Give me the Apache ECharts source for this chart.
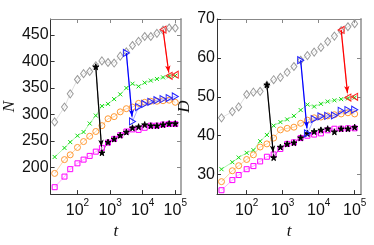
<!DOCTYPE html>
<html><head><meta charset="utf-8">
<script src="https://cdn.jsdelivr.net/npm/echarts@6/dist/echarts.min.js"></script>
<style>html,body{margin:0;padding:0;background:#fff}#c{width:374px;height:245px}</style>
</head><body><div id="c"></div>
<script>
// time steps (x, log scale)
const tValues = [20, 40, 60, 100, 154, 237, 365, 562, 866, 1334, 2054, 3162, 4870, 7499, 11548, 17783, 27384, 42170, 64938, 100000];
const xTicks = [100, 1000, 10000, 100000];
const nTicks = [200, 250, 300, 350, 400, 450];
const dTicks = [30, 40, 50, 60, 70];

// left panel: N
const nGray    = [286, 314, 339, 366, 377, 381, 392, 401, 398, 397, 410, 418, 430, 438, 447, 447, 453, 459, 463, 463];
const nGreen   = [220, 237, 248, 260, 267, 283, 298, 316, 320, 329, 338, 350, 358, 353, 360, 364, 367, 370, 372, 373];
const nOrange  = [189, 215, 224, 238, 249, 259, 268, 279, 292, 296, 305, 311, 314, 321, 323, 325, 325, 326, 327, 323];
const nMagenta = [163, 183, 197, 208, 215, 222, 230, 237, 247, 254, 261, 268, 272, 271, 275, 279, 279, 281, 282, 282];
const nBlack   = [390, 228, 248, 254, 261, 267, 275, 277, 281, 279, 279, 281, 283, 283]; // from index 6
const nBlue    = [416, 287, 314, 320, 324, 327, 329, 331, 334];                          // from index 11
const nRed     = [460, 373, 375];                                                        // from index 17

// right panel: D
const dGray    = [44.6, 46.2, 47.4, 50.6, 51.2, 51.4, 53.0, 54.4, 55.0, 56.3, 57.8, 59.4, 60.6, 61.5, 62.7, 64.2, 65.6, 67.0, 68.0, 68.8];
const dGreen   = [31.4, 33.2, 34.4, 35.6, 36.3, 38.6, 40.2, 42.6, 43.5, 44.2, 45.1, 46.6, 48.0, 47.5, 48.2, 48.8, 49.1, 49.4, 49.6, 49.8];
const dOrange  = [28.2, 31.0, 32.3, 33.9, 35.1, 37.1, 37.9, 39.4, 41.5, 41.9, 42.2, 43.2, 44.0, 44.6, 44.8, 45.1, 45.4, 45.6, 45.9, 45.6];
const dMagenta = [26.0, 28.6, 29.9, 31.4, 32.2, 33.4, 34.6, 35.2, 36.6, 37.9, 38.3, 39.4, 40.0, 40.3, 40.6, 41.4, 41.8, 41.8, 41.9, 41.9];
const dBlack   = [53.1, 34.4, 37.1, 37.9, 38.2, 39.5, 40.6, 41.1, 41.5, 41.8, 41.0, 41.8, 41.8, 42.2];
const dBlue    = [59.4, 40.6, 44.3, 45.0, 45.1, 45.2, 46.4, 46.6, 46.7];
const dRed     = [67.2, 49.8, 50.0];

const BLACK_START = 6, BLUE_START = 11, RED_START = 17;

const STAR = 'path://M50,0L61,35L98,35L68,57L79,91L50,70L21,91L32,57L2,35L39,35Z';
const XMARK = 'path://M0,0L10,10M10,0L0,10';

function pairs(vals, start) { return vals.map((v, i) => [tValues[start + i], v]); }

function lineSeries(gi, vals, start, color, lineColor, symbol, size, filled, rotate) {
  return {
    type: 'line', xAxisIndex: gi * 2, yAxisIndex: gi * 2,
    data: pairs(vals, start),
    symbol: symbol, symbolSize: size, symbolRotate: rotate || 0, showAllSymbol: true,
    lineStyle: { color: lineColor, width: 0.7 },
    itemStyle: { color: filled ? color : 'rgba(255,255,255,0)', borderColor: color, borderWidth: 1 },
    emphasis: { disabled: true }, silent: true
  };
}

function withArrow(s, vals, start, color) {
  const t0 = tValues[start], t1 = tValues[start + 1];
  const f = 0.93;
  const tEnd = Math.pow(10, Math.log10(t0) + f * (Math.log10(t1) - Math.log10(t0)));
  const vEnd = vals[0] + f * (vals[1] - vals[0]);
  s.markLine = {
    silent: true, symbol: ['none', 'arrow'], symbolSize: [4, 7],
    lineStyle: { color: color, width: 1.2, type: 'solid' },
    label: { show: false },
    data: [[{ coord: [t0, vals[0]] }, { coord: [tEnd, vEnd] }]]
  };
  return s;
}

function panelSeries(gi, g, gr, o, m, b, bl, r) {
  return [
    lineSeries(gi, g, 0, '#9a9a9a', '#d0d0d0', 'diamond', [6, 8], false),
    lineSeries(gi, gr, 0, '#11dd11', '#88ee88', XMARK, 4, false),
    lineSeries(gi, o, 0, '#ff9933', '#ffc080', 'circle', 6, false),
    lineSeries(gi, m, 0, '#ff00ff', '#ff88ff', 'rect', 5, false),
    withArrow(lineSeries(gi, b, BLACK_START, '#000000', '#666666', STAR, 6, true), b, BLACK_START, '#000000'),
    withArrow(lineSeries(gi, bl, BLUE_START, '#2222ff', '#8888ff', 'triangle', [7, 6], false, -90), bl, BLUE_START, '#0000ff'),
    withArrow(lineSeries(gi, r, RED_START, '#ff2222', '#ff8888', 'triangle', [7, 6], false, 90), r, RED_START, '#ff0000')
  ];
}

const LBL = 'Liberation Sans';
function xFmt(v) {
  const lg = Math.round(Math.log10(v));
  return '{a|10}{b|' + lg + '}';
}

function xAxes(gi) {
  const base = { type: 'log', logBase: 10, min: 15, max: 150000, gridIndex: gi,
    splitLine: { show: false }, minorTick: { show: false } };
  return [
    Object.assign({}, base, {
      position: 'bottom',
      axisLine: { show: true, lineStyle: { color: '#333', width: 1 } },
      axisTick: { show: true, inside: true, length: 4, customValues: xTicks, lineStyle: { color: '#333' } },
      axisLabel: { show: true, formatter: xFmt, margin: 4, customValues: xTicks,
        rich: { a: { fontSize: 16, fontFamily: LBL, color: '#111', verticalAlign: 'bottom', lineHeight: 20 },
                b: { fontSize: 10, fontFamily: LBL, color: '#111', verticalAlign: 'top', lineHeight: 20 } } },
      name: 't', nameLocation: 'middle', nameGap: 23,
      nameTextStyle: { fontFamily: 'Liberation Serif', fontStyle: 'italic', fontSize: 17, color: '#111' }
    }),
    Object.assign({}, base, {
      position: 'top',
      axisLine: { show: true, lineStyle: { color: '#888', width: 1 } },
      axisTick: { show: true, inside: true, length: 4, customValues: xTicks, lineStyle: { color: '#888' } },
      axisLabel: { show: false }
    })
  ];
}

function yAxes(gi, min, max, interval, ticks, name, gap) {
  const base = { type: 'value', min: min, max: max, interval: interval, gridIndex: gi, splitLine: { show: false } };
  return [
    Object.assign({}, base, {
      position: 'left',
      axisLine: { show: true, lineStyle: { color: '#333', width: 1 } },
      axisTick: { show: true, inside: true, length: 4, customValues: ticks, lineStyle: { color: '#333' } },
      axisLabel: { show: true, margin: 2, fontSize: 16, fontFamily: LBL, color: '#111', customValues: ticks },
      name: name, nameLocation: 'middle', nameRotate: 90, nameGap: gap,
      nameTextStyle: { fontFamily: 'Liberation Serif', fontStyle: 'italic', fontSize: 17, color: '#111' }
    }),
    Object.assign({}, base, {
      position: 'right',
      axisLine: { show: true, lineStyle: { color: '#aaa', width: 2 } },
      axisTick: { show: true, inside: true, length: 4, customValues: ticks, lineStyle: { color: '#888' } },
      axisLabel: { show: false }
    })
  ];
}

const chart = echarts.init(document.getElementById('c'), null, { renderer: 'canvas' });
chart.setOption({
  animation: false,
  backgroundColor: '#fff',
  grid: [
    { left: 44, right: 193, top: 19, bottom: 39 },
    { left: 217, right: 13, top: 19, bottom: 38 }
  ],
  xAxis: xAxes(0).concat(xAxes(1)),
  yAxis: yAxes(0, 150, 480, 10, nTicks, 'N', 30).concat(yAxes(1, 25, 70, 5, dTicks, 'D', 20)),
  series: panelSeries(0, nGray, nGreen, nOrange, nMagenta, nBlack, nBlue, nRed)
    .concat(panelSeries(1, dGray, dGreen, dOrange, dMagenta, dBlack, dBlue, dRed))
});
</script></body></html>
